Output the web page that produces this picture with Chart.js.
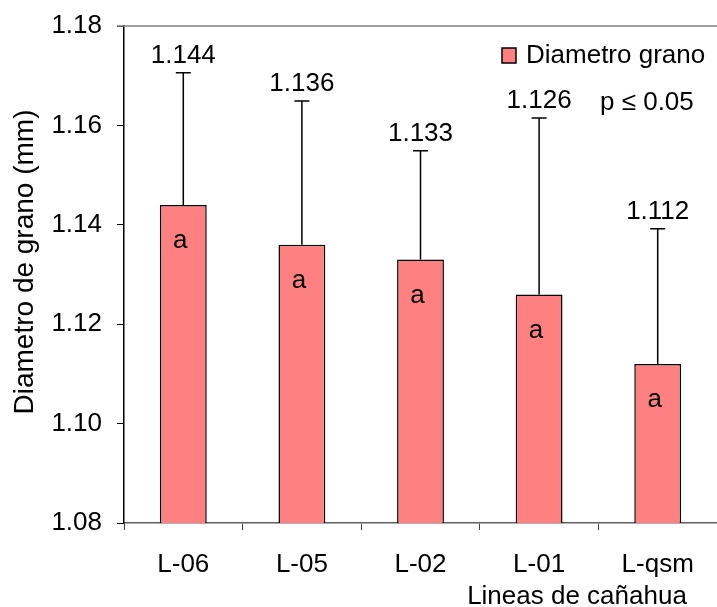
<!DOCTYPE html>
<html>
<head>
<meta charset="utf-8">
<title>Diametro de grano</title>
<script src="https://cdn.jsdelivr.net/npm/chart.js@4.4.1/dist/chart.umd.min.js"></script>
<style>
  html, body { margin: 0; padding: 0; background: #ffffff; }
  #wrap { width: 717px; height: 607px; position: relative; }
</style>
</head>
<body>
<div id="wrap"><canvas id="chart" width="717" height="607"></canvas></div>
<script>
// Grain diameter (mm) per cañahua line, with standard deviation and Tukey letters
const lines = ['L-06', 'L-05', 'L-02', 'L-01', 'L-qsm'];
const diameter = [1.144, 1.136, 1.133, 1.126, 1.112];
const stdDev = [0.0266, 0.0289, 0.0219, 0.0355, 0.0272];
const groupLetters = ['a', 'a', 'a', 'a', 'a'];
const yTicks = [1.08, 1.10, 1.12, 1.14, 1.16, 1.18];

const FONT = '"Liberation Sans", Arial, Helvetica, sans-serif';
const BAR_FILL = '#FF8080';

// Error bars, value labels, group letters, legend and axis titles
const annotations = {
  id: 'annotations',
  afterDatasetsDraw(chart) {
    const ctx = chart.ctx;
    const y = chart.scales.y;
    const meta = chart.getDatasetMeta(0);
    ctx.save();
    meta.data.forEach((bar, i) => {
      const top = y.getPixelForValue(diameter[i] + stdDev[i]);
      ctx.strokeStyle = '#000';
      ctx.lineWidth = 1.5;
      ctx.beginPath();
      ctx.moveTo(bar.x, bar.y);
      ctx.lineTo(bar.x, top);
      ctx.moveTo(bar.x - 7.5, top);
      ctx.lineTo(bar.x + 7.5, top);
      ctx.stroke();

      ctx.fillStyle = '#000';
      ctx.font = '26px ' + FONT;
      ctx.textAlign = 'center';
      ctx.textBaseline = 'alphabetic';
      ctx.fillText(diameter[i].toFixed(3), bar.x, top - 10);

      ctx.textBaseline = 'middle';
      ctx.fillText(groupLetters[i], bar.x - 3, bar.y + 36);
    });
    ctx.restore();
  },
  afterDraw(chart) {
    const ctx = chart.ctx;
    const area = chart.chartArea;
    ctx.save();
    // plot frame top edge
    ctx.strokeStyle = '#808080';
    ctx.lineWidth = 1.5;
    ctx.beginPath();
    ctx.moveTo(area.left - 7, area.top);
    ctx.lineTo(chart.width, area.top);
    ctx.stroke();

    // legend
    ctx.fillStyle = BAR_FILL;
    ctx.fillRect(502, 48, 14, 15);
    ctx.strokeStyle = '#000';
    ctx.lineWidth = 1.5;
    ctx.strokeRect(502, 48, 14, 15);
    ctx.fillStyle = '#000';
    ctx.font = '26px ' + FONT;
    ctx.textAlign = 'left';
    ctx.textBaseline = 'alphabetic';
    ctx.fillText(chart.data.datasets[0].label, 526, 63);
    ctx.fillText('p \u2264 0.05', 600, 110);

    // axis titles
    ctx.textAlign = 'center';
    ctx.fillText('Lineas de ca\u00f1ahua', 577, 604);
    ctx.translate(33, 262);
    ctx.rotate(-Math.PI / 2);
    ctx.font = '28px ' + FONT;
    ctx.fillText('Diametro de grano (mm)', 0, 0);
    ctx.restore();
  }
};

new Chart(document.getElementById('chart'), {
  type: 'bar',
  data: {
    labels: lines,
    datasets: [{
      label: 'Diametro grano',
      data: diameter,
      backgroundColor: BAR_FILL,
      borderColor: '#000',
      borderWidth: 1.5,
      borderSkipped: false,
      barPercentage: 0.79,
      categoryPercentage: 0.5
    }]
  },
  options: {
    responsive: false,
    animation: false,
    events: [],
    layout: { padding: { top: 26, right: -4.5, left: 0, bottom: 0 } },
    plugins: {
      legend: { display: false },
      tooltip: { enabled: false }
    },
    scales: {
      x: {
        offset: true,
        grid: {
          offset: true,
          drawOnChartArea: false,
          tickLength: 7,
          tickColor: '#404040',
          tickWidth: 1
        },
        border: { color: '#606060', width: 1.5 },
        ticks: {
          color: '#000',
          font: { family: FONT, size: 26 },
          padding: 19,
          maxRotation: 0
        },
        afterFit(scale) { scale.height = 84; }
      },
      y: {
        min: yTicks[0],
        max: yTicks[yTicks.length - 1],
        afterBuildTicks(scale) { scale.ticks = yTicks.map(v => ({ value: v })); },
        grid: {
          drawOnChartArea: false,
          tickLength: 7,
          tickColor: '#000',
          tickWidth: 1
        },
        border: { color: '#000', width: 1.5 },
        ticks: {
          color: '#000',
          font: { family: FONT, size: 26 },
          padding: 15,
          callback: v => Number(v).toFixed(2)
        },
        afterFit(scale) {
          scale.width = 124;
          scale.paddingTop = 0;
          scale.paddingBottom = 0;
        }
      }
    }
  },
  plugins: [annotations]
});
</script>
</body>
</html>
